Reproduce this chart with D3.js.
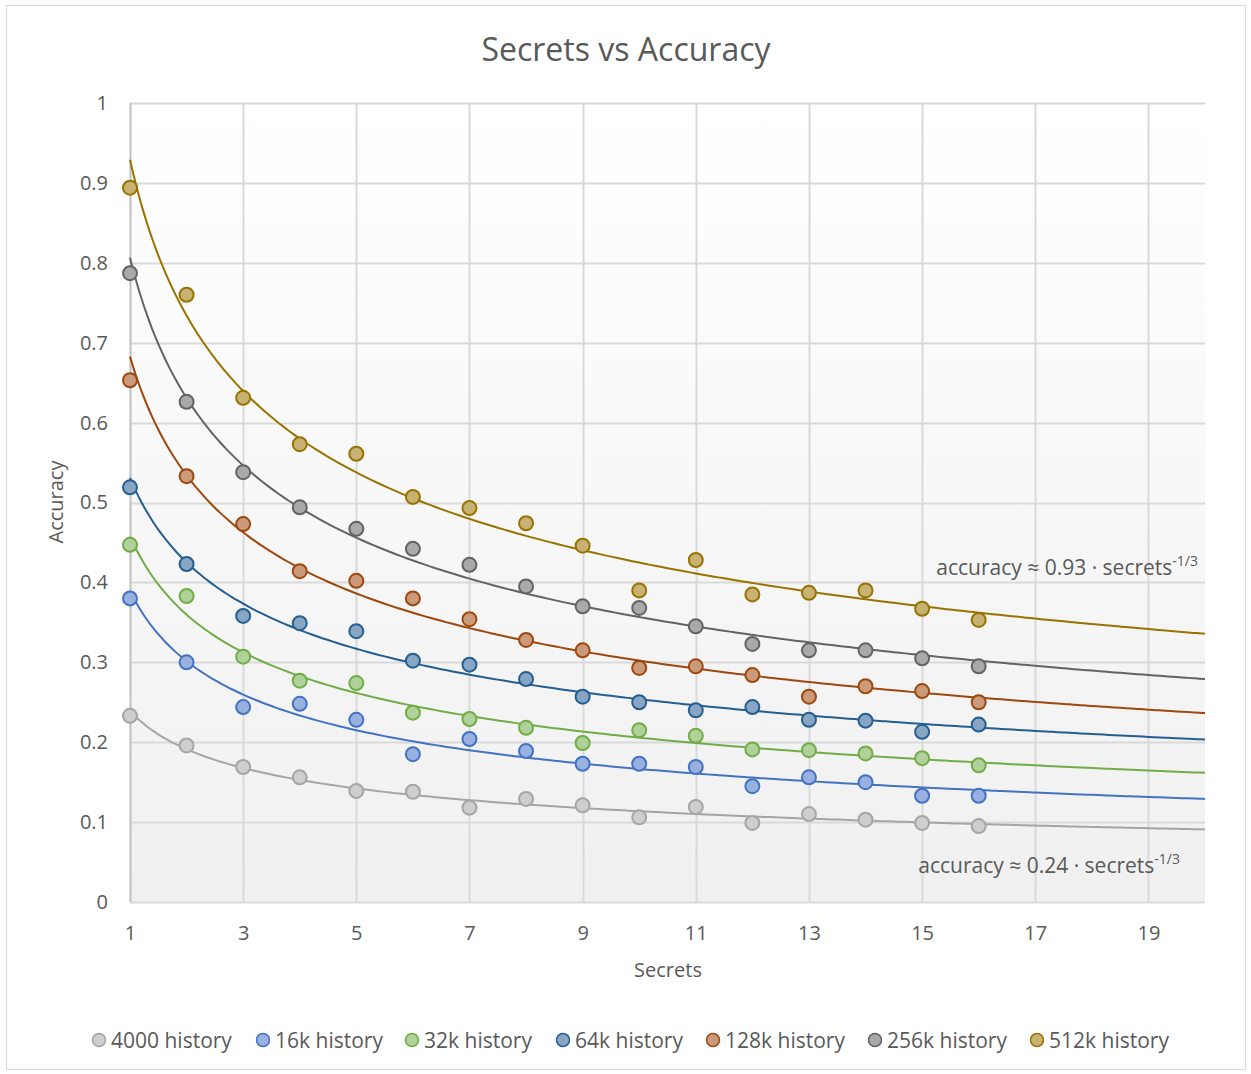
<!DOCTYPE html>
<html>
<head>
<meta charset="utf-8">
<script src="https://cdn.jsdelivr.net/npm/d3@7"></script>
<style>
  body { margin: 0; background: #ffffff; }
  text { font-family: "Open Sans", "Noto Sans", sans-serif; fill: #595959; }
</style>
</head>
<body>
<div id="chart"></div>
<script>
var width  = 1251;
var height = 1074;

// ------------- data ------------------------------------
var secrets = [1, 2, 3, 4, 5, 6, 7, 8, 9, 10, 11, 12, 13, 14, 15, 16];

var seriesNames  = ["4000 history", "16k history", "32k history", "64k history",
                    "128k history", "256k history", "512k history"];
var seriesColors = ["#A5A5A5", "#4472C4", "#70AD47", "#255E91",
                    "#9E480E", "#636363", "#997300"];

var acc4000 = [0.233, 0.196, 0.169, 0.156, 0.139, 0.138, 0.118, 0.129, 0.121, 0.106, 0.119, 0.099, 0.110, 0.103, 0.099, 0.095];
var acc16k  = [0.380, 0.300, 0.244, 0.248, 0.228, 0.185, 0.204, 0.189, 0.173, 0.173, 0.169, 0.145, 0.156, 0.150, 0.133, 0.133];
var acc32k  = [0.447, 0.383, 0.307, 0.277, 0.274, 0.237, 0.229, 0.218, 0.199, 0.215, 0.208, 0.191, 0.190, 0.186, 0.180, 0.171];
var acc64k  = [0.519, 0.423, 0.358, 0.349, 0.339, 0.302, 0.297, 0.279, 0.257, 0.250, 0.240, 0.244, 0.228, 0.227, 0.213, 0.222];
var acc128k = [0.653, 0.533, 0.473, 0.414, 0.402, 0.380, 0.354, 0.328, 0.315, 0.293, 0.295, 0.284, 0.257, 0.270, 0.264, 0.250];
var acc256k = [0.787, 0.626, 0.538, 0.494, 0.467, 0.442, 0.422, 0.395, 0.370, 0.368, 0.345, 0.323, 0.315, 0.315, 0.305, 0.295];
var acc512k = [0.894, 0.760, 0.631, 0.573, 0.561, 0.507, 0.493, 0.474, 0.446, 0.390, 0.428, 0.385, 0.387, 0.390, 0.367, 0.353];

var seriesValues = [acc4000, acc16k, acc32k, acc64k, acc128k, acc256k, acc512k];

var xTicks = [1, 3, 5, 7, 9, 11, 13, 15, 17, 19];
var yTicks = [0, 0.1, 0.2, 0.3, 0.4, 0.5, 0.6, 0.7, 0.8, 0.9, 1];

var notes = [
  {coef: "0.93", y: 0.41},
  {coef: "0.24", y: 0.037}
];

// ------------- layout -----------------
const plotLeft   = 130;
const plotRight  = 1205;
const plotTop    = 103;
const plotBottom = 902;

var svg = d3.select("#chart").append("svg")
    .attr("width", width)
    .attr("height", height);

var defs = svg.append("defs");
var grad = defs.append("linearGradient")
    .attr("id", "plotBg")
    .attr("x1", 0).attr("y1", 0)
    .attr("x2", 0).attr("y2", 1);
grad.append("stop").attr("offset", "0%").attr("stop-color", "#ffffff");
grad.append("stop").attr("offset", "100%").attr("stop-color", "#f0f0f0");

// outer chart border
svg.append("rect")
    .attr("x", 6.5).attr("y", 5.5)
    .attr("width", 1239).attr("height", 1064)
    .attr("fill", "#ffffff")
    .attr("stroke", "#d9d9d9")
    .attr("stroke-width", 1);

var x = d3.scaleLinear().domain([1, 20]).range([plotLeft, plotRight]);
var y = d3.scaleLinear().domain([0, 1]).range([plotBottom, plotTop]);

svg.append("rect")
    .attr("x", plotLeft).attr("y", plotTop)
    .attr("width", plotRight - plotLeft).attr("height", plotBottom - plotTop)
    .attr("fill", "url(#plotBg)");

// gridlines
var grid = svg.append("g");
grid.selectAll("line.h")
    .data(yTicks)
    .enter()
  .append("line")
    .attr("class", "h")
    .attr("x1", plotLeft).attr("x2", plotRight)
    .attr("y1", d => Math.round(y(d)) + 0.5)
    .attr("y2", d => Math.round(y(d)) + 0.5)
    .attr("stroke", "#d9d9d9")
    .attr("stroke-width", 2);

grid.selectAll("line.v")
    .data(xTicks.slice(1))
    .enter()
  .append("line")
    .attr("class", "v")
    .attr("x1", d => Math.round(x(d)) + 0.5)
    .attr("x2", d => Math.round(x(d)) + 0.5)
    .attr("y1", plotTop).attr("y2", plotBottom)
    .attr("stroke", "#d9d9d9")
    .attr("stroke-width", 2);

// y axis line
svg.append("line")
    .attr("x1", plotLeft + 0.5).attr("x2", plotLeft + 0.5)
    .attr("y1", plotTop).attr("y2", plotBottom)
    .attr("stroke", "#bfbfbf")
    .attr("stroke-width", 2);

// axes (labels only, Excel style)
var yAxis = svg.append("g")
    .attr("transform", "translate(" + plotLeft + ",0)")
    .call(d3.axisLeft(y).tickValues(yTicks).tickSize(0).tickPadding(22)
      .tickFormat(d => d === 0 ? "0" : d === 1 ? "1" : d3.format(".1f")(d)));
yAxis.select(".domain").remove();
yAxis.selectAll("text")
    .style("font-size", "20px")
    .attr("fill", "#595959");

var xAxis = svg.append("g")
    .attr("transform", "translate(0," + plotBottom + ")")
    .call(d3.axisBottom(x).tickValues(xTicks).tickSize(0).tickPadding(24));
xAxis.select(".domain").remove();
xAxis.selectAll("text")
    .style("font-size", "20px")
    .attr("fill", "#595959");

// titles
svg.append("text")
    .attr("x", 626).attr("y", 61)
    .attr("text-anchor", "middle")
    .style("font-size", "32px")
    .text("Secrets vs Accuracy");

svg.append("text")
    .attr("x", 668).attr("y", 977)
    .attr("text-anchor", "middle")
    .style("font-size", "20px")
    .text("Secrets");

svg.append("text")
    .attr("transform", "translate(63," + 502 + ") rotate(-90)")
    .attr("text-anchor", "middle")
    .style("font-size", "20px")
    .text("Accuracy");

// ------------- power trendlines (least squares in log-log, like Excel) ----------
function powerFit(xs, ys) {
  var lx = xs.map(Math.log), ly = ys.map(Math.log);
  var mx = d3.mean(lx), my = d3.mean(ly);
  var sxy = d3.sum(lx, (v, i) => (v - mx) * (ly[i] - my));
  var sxx = d3.sum(lx, v => (v - mx) * (v - mx));
  var b = sxy / sxx;
  var a = Math.exp(my - b * mx);
  return {a: a, b: b};
}

var trendX = d3.range(1, 20.001, 0.1);
var line = d3.line()
    .x(d => x(d[0]))
    .y(d => y(d[1]))
    .curve(d3.curveMonotoneX);

var trendGroup = svg.append("g");
for (var i = 0; i < seriesValues.length; i++) {
  var fit = powerFit(secrets, seriesValues[i]);
  trendGroup.append("path")
    .datum(trendX.map(t => [t, fit.a * Math.pow(t, fit.b)]))
    .attr("d", line)
    .attr("fill", "none")
    .attr("stroke", seriesColors[i])
    .attr("stroke-width", 2);
}

// ------------- markers -----------------
var markGroup = svg.append("g");
for (var i = 0; i < seriesValues.length; i++) {
  markGroup.append("g")
    .selectAll("circle")
    .data(seriesValues[i])
    .enter()
  .append("circle")
    .attr("cx", (d, j) => x(secrets[j]))
    .attr("cy", d => y(d))
    .attr("r", 7)
    .attr("fill", d3.interpolateRgb(seriesColors[i], "#ffffff")(0.45))
    .attr("stroke", seriesColors[i])
    .attr("stroke-width", 2);
}

// ------------- equation notes -----------------
for (var k = 0; k < notes.length; k++) {
  var t = svg.append("text")
    .attr("x", k === 0 ? 1198 : 1180)
    .attr("y", y(notes[k].y) + 1)
    .attr("text-anchor", "end")
    .style("font-size", "21px");
  t.append("tspan").text("accuracy \u2248 " + notes[k].coef + " \u00B7 secrets");
  t.append("tspan").attr("dy", -9).style("font-size", "14px").text("-1/3");
}

// ------------- legend -----------------
var legendX = [99, 263, 412, 563, 713, 875, 1037];
var legend = svg.append("g");
for (var i = 0; i < seriesNames.length; i++) {
  legend.append("circle")
    .attr("cx", legendX[i]).attr("cy", 1040)
    .attr("r", 6.5)
    .attr("fill", d3.interpolateRgb(seriesColors[i], "#ffffff")(0.45))
    .attr("stroke", seriesColors[i])
    .attr("stroke-width", 1.5);
  legend.append("text")
    .attr("x", legendX[i] + 12).attr("y", 1048)
    .style("font-size", "21px")
    .text(seriesNames[i]);
}
</script>
</body>
</html>
